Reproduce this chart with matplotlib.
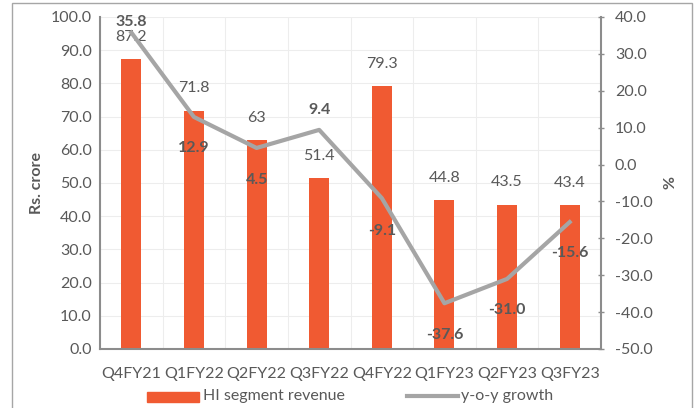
import matplotlib
matplotlib.use("Agg")
from matplotlib import pyplot as plt
from matplotlib.patches import Rectangle
import numpy as np

QUARTERS = ["Q4FY21", "Q1FY22", "Q2FY22", "Q3FY22", "Q4FY22", "Q1FY23", "Q2FY23", "Q3FY23"]
REVENUE = [87.2, 71.8, 63, 51.4, 79.3, 44.8, 43.5, 43.4]
REVENUE_LABELS = ["87.2", "71.8", "63", "51.4", "79.3", "44.8", "43.5", "43.4"]
GROWTH = [35.8, 12.9, 4.5, 9.4, -9.1, -37.6, -31.0, -15.6]
GROWTH_LABELS = ["35.8", "12.9", "4.5", "9.4", "-9.1", "-37.6", "-31.0", "-15.6"]

BAR = "#F05A32"
LINE = "#A5A5A5"
INK = "#595959"
GRID = "#EDEDED"
FS = 11.5

plt.rcParams["font.family"] = ["Lato", "DejaVu Sans"]

fig = plt.figure(figsize=(6.96, 4.08), dpi=100)
ax = fig.add_axes([100 / 696, 1 - 349 / 408, 501 / 696, 332 / 408])
x = np.arange(len(QUARTERS))

ax.bar(x, REVENUE, width=0.32, color=BAR, zorder=2)
ax.set_xlim(-0.5, len(QUARTERS) - 0.5)
ax.set_ylim(0, 100)
ax.set_yticks(np.arange(0, 101, 10))
ax.set_yticklabels([f"{v:.1f}" for v in np.arange(0, 101, 10)])
ax.set_xticks(x)
ax.set_xticklabels(QUARTERS)
ax.set_xticks(np.arange(-0.5, len(QUARTERS)), minor=True)
ax.grid(True, which="major", axis="y", color=GRID, linewidth=0.8, zorder=0)
ax.grid(True, which="minor", axis="x", color=GRID, linewidth=0.8, zorder=0)
ax.tick_params(axis="both", which="both", length=0, labelsize=FS, colors=INK, pad=6)
ax.tick_params(axis="x", pad=13)
for side in ("top", "right"):
    ax.spines[side].set_visible(False)
for side in ("left", "bottom"):
    ax.spines[side].set_color("#8C8C8C")
    ax.spines[side].set_linewidth(1.5)
ax.set_ylabel("Rs. crore", fontsize=FS, fontweight="bold", color=INK, labelpad=5)

# value labels sit ~22 px above bar tops (offsets in points at 100 dpi)
for xi, v, lab in zip(x, REVENUE, REVENUE_LABELS):
    ax.annotate(lab, (xi, v), textcoords="offset points", xytext=(0, 16),
                ha="center", va="center", fontsize=FS, color=INK)

ax2 = ax.twinx()
ax2.plot(x, GROWTH, color=LINE, linewidth=3, zorder=3)
ax2.set_ylim(-50, 40)
ax2.set_yticks(np.arange(-50, 41, 10))
ax2.set_yticklabels([f"{v:.1f}" for v in np.arange(-50, 41, 10)])
ax2.tick_params(axis="y", length=4, width=1, colors=INK, labelsize=FS, pad=8,
                direction="inout")
ax2.tick_params(axis="y", color="#8C8C8C")
for side in ("top", "left", "bottom"):
    ax2.spines[side].set_visible(False)
ax2.spines["right"].set_color("#8C8C8C")
ax2.spines["right"].set_linewidth(1.5)
ax2.set_ylabel("%", fontsize=FS, fontweight="bold", color=INK, rotation=270, labelpad=14)

offsets = [(0, 7.5), (0, -22.5), (0, -23), (0, 14.5), (0, -23.5), (0, -23), (0, -22.5), (0, -22.5)]
for xi, v, lab, off in zip(x, GROWTH, GROWTH_LABELS, offsets):
    ax2.annotate(lab, (xi, v), textcoords="offset points", xytext=off,
                 ha="center", va="center", fontsize=FS, color=INK, fontweight="bold")

ax.set_zorder(ax2.get_zorder() - 1)
ax.patch.set_visible(True)
ax2.patch.set_visible(False)

# legend
fig.patches.append(Rectangle((147 / 696, 1 - 402 / 408), 52 / 696, 10 / 408,
                             transform=fig.transFigure, color=BAR))
fig.text(203 / 696, 1 - 396 / 408, "HI segment revenue", fontsize=FS, color=INK,
         va="center", ha="left")
fig.add_artist(plt.Line2D([407 / 696, 458 / 696], [1 - 396 / 408, 1 - 396 / 408],
                          transform=fig.transFigure, color=LINE, linewidth=3))
fig.text(461 / 696, 1 - 396 / 408, "y-o-y growth", fontsize=FS, color=INK,
         va="center", ha="left")

# chart frame
fig.patches.append(Rectangle((12 / 696, -0.01), 680 / 696, 1 - 3 / 408 + 0.01,
                             transform=fig.transFigure, fill=False,
                             edgecolor="#A6A6A6", linewidth=1))

fig.savefig("out.png", dpi=100)
